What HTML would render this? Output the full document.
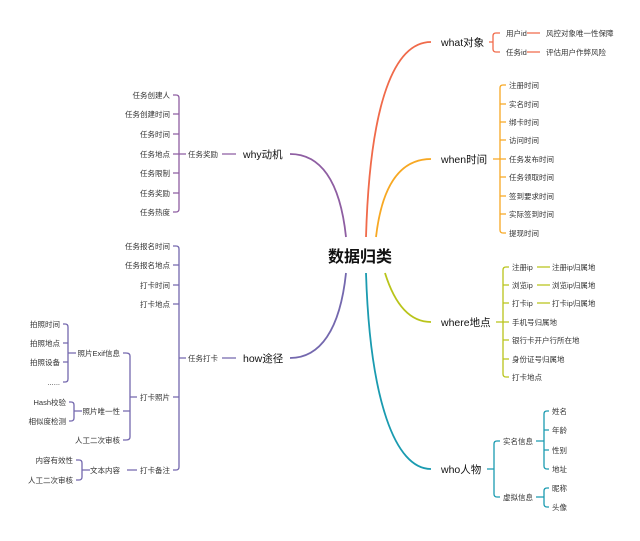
<!DOCTYPE html><html><head><meta charset="utf-8"><style>
html,body{margin:0;padding:0;background:#fff;width:640px;height:541px;overflow:hidden}
text{font-family:"Liberation Sans","Noto Sans CJK SC",sans-serif;fill:#333}
.s{font-size:7.5px}.m{font-size:9px}.b{font-size:10.5px;fill:#111}
</style></head><body>
<svg width="640" height="541" viewBox="0 0 640 541" fill="none" stroke-width="1.3">
<text x="360" y="262" text-anchor="middle" style="font-size:16px;font-weight:bold;fill:#111">数据归类</text>
<!-- main curves -->
<path d="M346 237 C340 180 320 154 290 154" stroke="#8e5ea2" stroke-width="1.8"/>
<path d="M346 273 C340 330 320 358 290 358" stroke="#7468ae" stroke-width="1.8"/>
<path d="M366 237 C370 100 395 42 431 42" stroke="#f06a4a" stroke-width="1.8"/>
<path d="M376 237 C382 185 400 159 431 159" stroke="#f7a823" stroke-width="1.8"/>
<path d="M385 273 C395 305 410 322 431 322" stroke="#b9c41a" stroke-width="1.8"/>
<path d="M366 273 C370 400 395 469 431 469" stroke="#1a9bb0" stroke-width="1.8"/>
<text class="b" x="441" y="46">what对象</text>
<text class="b" x="441" y="163">when时间</text>
<text class="b" x="441" y="326">where地点</text>
<text class="b" x="441" y="473">who人物</text>
<text class="b" x="243" y="158">why动机</text>
<text class="b" x="243" y="362">how途径</text>
<!-- what -->
<g stroke="#f06a4a"><path d="M489 42H493M496 33Q493 33 493 36V49Q493 52 496 52H500M496 33H500M527 33H540M527 52H540"/></g>
<text class="s" x="506" y="36">用户id</text><text class="s" x="506" y="55">任务id</text>
<text class="s" x="546" y="36">风控对象唯一性保障</text><text class="s" x="546" y="55">评估用户作弊风险</text>
<!-- when -->
<g stroke="#f7a823"><path d="M493 159H500M503 85Q500 85 500 88V230Q500 233 503 233H506M500 104H506M500 122H506M500 140H506M500 159H506M500 177H506M500 196H506M500 214H506M503 85H506"/></g>
<g class="s"><text class="s" x="509" y="88">注册时间</text><text class="s" x="509" y="107">实名时间</text><text class="s" x="509" y="125">绑卡时间</text><text class="s" x="509" y="143">访问时间</text><text class="s" x="509" y="162">任务发布时间</text><text class="s" x="509" y="180">任务领取时间</text><text class="s" x="509" y="199">签到要求时间</text><text class="s" x="509" y="217">实际签到时间</text><text class="s" x="509" y="236">提现时间</text></g>
<!-- where -->
<g stroke="#b9c41a"><path d="M496 322H503M506 267Q503 267 503 270V374Q503 377 506 377H509M503 285H509M503 303H509M503 322H509M503 340H509M503 359H509M506 267H509M537 267H550M537 285H550M537 303H550"/></g>
<text class="s" x="512" y="270">注册ip</text><text class="s" x="512" y="288">浏览ip</text><text class="s" x="512" y="306">打卡ip</text><text class="s" x="512" y="325">手机号归属地</text><text class="s" x="512" y="343">银行卡开户行所在地</text><text class="s" x="512" y="362">身份证号归属地</text><text class="s" x="512" y="380">打卡地点</text>
<text class="s" x="552" y="270">注册ip归属地</text><text class="s" x="552" y="288">浏览ip归属地</text><text class="s" x="552" y="306">打卡ip归属地</text>
<!-- who -->
<g stroke="#1a9bb0"><path d="M487 469H494M497 441Q494 441 494 444V494Q494 497 497 497H500M497 441H500M536 441H544M536 497H544M547 411Q544 411 544 414V466Q544 469 547 469H549M544 430H549M544 450H549M547 411H549M547 488Q544 488 544 491V504Q544 507 547 507H549M547 488H549"/></g>
<text class="s" x="503" y="444">实名信息</text><text class="s" x="503" y="500">虚拟信息</text>
<text class="s" x="552" y="414">姓名</text><text class="s" x="552" y="433">年龄</text><text class="s" x="552" y="453">性别</text><text class="s" x="552" y="472">地址</text><text class="s" x="552" y="491">昵称</text><text class="s" x="552" y="510">头像</text>
<!-- why -->
<g stroke="#8e5ea2"><path d="M222 154H236M173 95H176Q179 95 179 98V209Q179 212 176 212H173M173 114H179M173 134H179M173 154H186M173 173H179M173 193H179"/></g>
<g text-anchor="end"><text class="s" x="170" y="98">任务创建人</text><text class="s" x="170" y="117">任务创建时间</text><text class="s" x="170" y="137">任务时间</text><text class="s" x="170" y="157">任务地点</text><text class="s" x="170" y="176">任务限制</text><text class="s" x="170" y="196">任务奖励</text><text class="s" x="170" y="215">任务热度</text></g>
<text class="s" x="188" y="157">任务奖励</text>
<!-- how -->
<g stroke="#7468ae"><path d="M222 358H236M173 246H176Q179 246 179 249V467Q179 470 176 470H173M173 265H179M173 285H179M173 304H179M173 397H179M179 358H186M127 470H137M123 353H126Q130 353 130 356V437Q130 440 126 440H123M123 411H130M130 397H137M63 324H65Q68 324 68 327V379Q68 382 65 382H63M63 343H68M63 362H68M68 353H76M69 402H71Q74 402 74 405V418Q74 421 71 421H69M74 411H82M76 460H79Q82 460 82 463V477Q82 480 79 480H76M82 470H90"/></g>
<text class="s" x="188" y="361">任务打卡</text>
<g text-anchor="end">
<text class="s" x="170" y="249">任务报名时间</text><text class="s" x="170" y="268">任务报名地点</text><text class="s" x="170" y="288">打卡时间</text><text class="s" x="170" y="307">打卡地点</text><text class="s" x="170" y="400">打卡照片</text><text class="s" x="170" y="473">打卡备注</text>
<text class="s" x="120" y="356">照片Exif信息</text><text class="s" x="120" y="414">照片唯一性</text><text class="s" x="120" y="443">人工二次审核</text><text class="s" x="120" y="473">文本内容</text>
<text class="s" x="60" y="327">拍照时间</text><text class="s" x="60" y="346">拍照地点</text><text class="s" x="60" y="365">拍照设备</text><text class="s" x="60" y="385">......</text>
<text class="s" x="66" y="405">Hash校验</text><text class="s" x="66" y="424">相似度检测</text>
<text class="s" x="73" y="463">内容有效性</text><text class="s" x="73" y="483">人工二次审核</text>
</g>
</svg></body></html>
